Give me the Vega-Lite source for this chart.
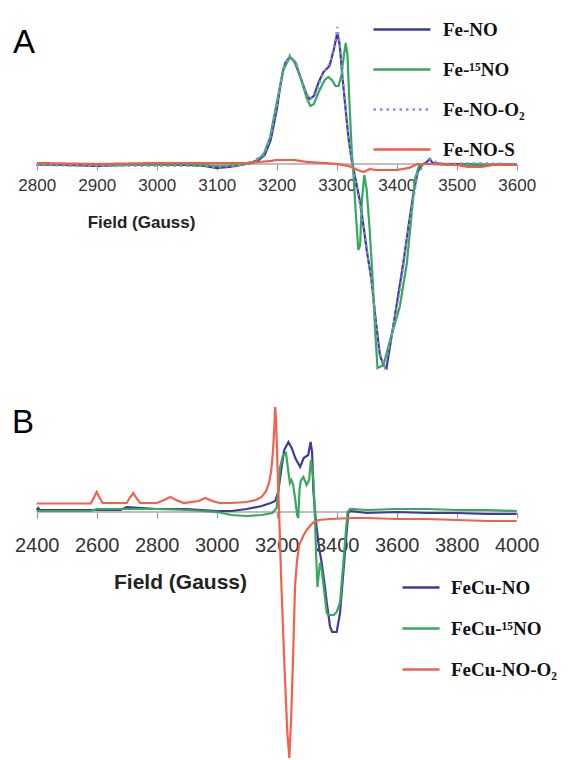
{
  "$schema": "https://vega.github.io/schema/vega-lite/v6.json",
  "padding": 0,
  "autosize": {"type": "pad"},
  "background": "white",
  "spacing": 0,
  "bounds": "flush",
  "config": {"view": {"stroke": null}, "font": "Liberation Sans"},
  "resolve": {
    "scale": {"color": "independent", "strokeDash": "independent", "x": "independent", "y": "independent"},
    "legend": {"color": "independent", "strokeDash": "independent"}
  },
  "datasets": {
    "a": [
      {"s":"Fe-NO","g":2800,"v":-1},{"s":"Fe-NO","g":2850,"v":-1},{"s":"Fe-NO","g":2900,"v":-2},{"s":"Fe-NO","g":2950,"v":-1},{"s":"Fe-NO","g":3000,"v":-1},{"s":"Fe-NO","g":3050,"v":-1},{"s":"Fe-NO","g":3080,"v":-2},{"s":"Fe-NO","g":3100,"v":-4},{"s":"Fe-NO","g":3120,"v":-3},{"s":"Fe-NO","g":3140,"v":-1},{"s":"Fe-NO","g":3160,"v":2},{"s":"Fe-NO","g":3170,"v":4},{"s":"Fe-NO","g":3180,"v":9},{"s":"Fe-NO","g":3190,"v":24},{"s":"Fe-NO","g":3200,"v":54},{"s":"Fe-NO","g":3205,"v":74},{"s":"Fe-NO","g":3210,"v":92},{"s":"Fe-NO","g":3215,"v":102},{"s":"Fe-NO","g":3222,"v":107},{"s":"Fe-NO","g":3230,"v":102},{"s":"Fe-NO","g":3240,"v":86},{"s":"Fe-NO","g":3250,"v":69},{"s":"Fe-NO","g":3255,"v":65},{"s":"Fe-NO","g":3262,"v":68},{"s":"Fe-NO","g":3270,"v":82},{"s":"Fe-NO","g":3278,"v":92},{"s":"Fe-NO","g":3288,"v":98},{"s":"Fe-NO","g":3295,"v":114},{"s":"Fe-NO","g":3301,"v":131},{"s":"Fe-NO","g":3305,"v":119},{"s":"Fe-NO","g":3310,"v":84},{"s":"Fe-NO","g":3315,"v":54},{"s":"Fe-NO","g":3320,"v":24},{"s":"Fe-NO","g":3325,"v":4},{"s":"Fe-NO","g":3330,"v":-11},{"s":"Fe-NO","g":3340,"v":-41},{"s":"Fe-NO","g":3350,"v":-86},{"s":"Fe-NO","g":3358,"v":-116},{"s":"Fe-NO","g":3365,"v":-156},{"s":"Fe-NO","g":3372,"v":-191},{"s":"Fe-NO","g":3378,"v":-201},{"s":"Fe-NO","g":3383,"v":-204},{"s":"Fe-NO","g":3394,"v":-163},{"s":"Fe-NO","g":3411,"v":-99},{"s":"Fe-NO","g":3420,"v":-61},{"s":"Fe-NO","g":3428,"v":-29},{"s":"Fe-NO","g":3435,"v":-8},{"s":"Fe-NO","g":3442,"v":-1},{"s":"Fe-NO","g":3450,"v":2},{"s":"Fe-NO","g":3455,"v":5},{"s":"Fe-NO","g":3460,"v":1},{"s":"Fe-NO","g":3480,"v":0},{"s":"Fe-NO","g":3500,"v":0},{"s":"Fe-NO","g":3550,"v":-1},{"s":"Fe-NO","g":3600,"v":-1},

      {"s":"Fe-¹⁵NO","g":2800,"v":-1},{"s":"Fe-¹⁵NO","g":2850,"v":0},{"s":"Fe-¹⁵NO","g":2900,"v":-1},{"s":"Fe-¹⁵NO","g":3000,"v":-1},{"s":"Fe-¹⁵NO","g":3050,"v":0},{"s":"Fe-¹⁵NO","g":3100,"v":-2},{"s":"Fe-¹⁵NO","g":3140,"v":-1},{"s":"Fe-¹⁵NO","g":3160,"v":1},{"s":"Fe-¹⁵NO","g":3178,"v":9},{"s":"Fe-¹⁵NO","g":3189,"v":27},{"s":"Fe-¹⁵NO","g":3200,"v":61},{"s":"Fe-¹⁵NO","g":3211,"v":94},{"s":"Fe-¹⁵NO","g":3222,"v":107},{"s":"Fe-¹⁵NO","g":3232,"v":101},{"s":"Fe-¹⁵NO","g":3242,"v":82},{"s":"Fe-¹⁵NO","g":3250,"v":66},{"s":"Fe-¹⁵NO","g":3256,"v":58},{"s":"Fe-¹⁵NO","g":3262,"v":60},{"s":"Fe-¹⁵NO","g":3270,"v":72},{"s":"Fe-¹⁵NO","g":3280,"v":84},{"s":"Fe-¹⁵NO","g":3286,"v":87},{"s":"Fe-¹⁵NO","g":3292,"v":84},{"s":"Fe-¹⁵NO","g":3298,"v":78},{"s":"Fe-¹⁵NO","g":3303,"v":78},{"s":"Fe-¹⁵NO","g":3308,"v":89},{"s":"Fe-¹⁵NO","g":3312,"v":109},{"s":"Fe-¹⁵NO","g":3315,"v":121},{"s":"Fe-¹⁵NO","g":3318,"v":109},{"s":"Fe-¹⁵NO","g":3321,"v":64},{"s":"Fe-¹⁵NO","g":3325,"v":14},{"s":"Fe-¹⁵NO","g":3328,"v":-11},{"s":"Fe-¹⁵NO","g":3332,"v":-51},{"s":"Fe-¹⁵NO","g":3336,"v":-86},{"s":"Fe-¹⁵NO","g":3339,"v":-81},{"s":"Fe-¹⁵NO","g":3342,"v":-36},{"s":"Fe-¹⁵NO","g":3346,"v":-11},{"s":"Fe-¹⁵NO","g":3350,"v":-26},{"s":"Fe-¹⁵NO","g":3355,"v":-66},{"s":"Fe-¹⁵NO","g":3360,"v":-116},{"s":"Fe-¹⁵NO","g":3364,"v":-166},{"s":"Fe-¹⁵NO","g":3368,"v":-204},{"s":"Fe-¹⁵NO","g":3378,"v":-201},{"s":"Fe-¹⁵NO","g":3389,"v":-176},{"s":"Fe-¹⁵NO","g":3405,"v":-143},{"s":"Fe-¹⁵NO","g":3417,"v":-99},{"s":"Fe-¹⁵NO","g":3425,"v":-49},{"s":"Fe-¹⁵NO","g":3430,"v":-16},{"s":"Fe-¹⁵NO","g":3437,"v":-2},{"s":"Fe-¹⁵NO","g":3445,"v":0},{"s":"Fe-¹⁵NO","g":3460,"v":0},{"s":"Fe-¹⁵NO","g":3500,"v":-1},{"s":"Fe-¹⁵NO","g":3600,"v":0},

      {"s":"Fe-NO-O₂","g":2800,"v":-1},{"s":"Fe-NO-O₂","g":2900,"v":-2},{"s":"Fe-NO-O₂","g":3000,"v":-2},{"s":"Fe-NO-O₂","g":3080,"v":-2},{"s":"Fe-NO-O₂","g":3100,"v":-3},{"s":"Fe-NO-O₂","g":3140,"v":-1},{"s":"Fe-NO-O₂","g":3160,"v":2},{"s":"Fe-NO-O₂","g":3180,"v":11},{"s":"Fe-NO-O₂","g":3190,"v":28},{"s":"Fe-NO-O₂","g":3200,"v":58},{"s":"Fe-NO-O₂","g":3210,"v":95},{"s":"Fe-NO-O₂","g":3222,"v":109},{"s":"Fe-NO-O₂","g":3232,"v":101},{"s":"Fe-NO-O₂","g":3242,"v":82},{"s":"Fe-NO-O₂","g":3255,"v":64},{"s":"Fe-NO-O₂","g":3265,"v":70},{"s":"Fe-NO-O₂","g":3278,"v":92},{"s":"Fe-NO-O₂","g":3290,"v":102},{"s":"Fe-NO-O₂","g":3298,"v":125},{"s":"Fe-NO-O₂","g":3301,"v":137},{"s":"Fe-NO-O₂","g":3305,"v":121},{"s":"Fe-NO-O₂","g":3312,"v":75},{"s":"Fe-NO-O₂","g":3320,"v":24},{"s":"Fe-NO-O₂","g":3330,"v":-13},{"s":"Fe-NO-O₂","g":3345,"v":-62},{"s":"Fe-NO-O₂","g":3358,"v":-118},{"s":"Fe-NO-O₂","g":3370,"v":-186},{"s":"Fe-NO-O₂","g":3380,"v":-203},{"s":"Fe-NO-O₂","g":3392,"v":-170},{"s":"Fe-NO-O₂","g":3405,"v":-128},{"s":"Fe-NO-O₂","g":3420,"v":-64},{"s":"Fe-NO-O₂","g":3435,"v":-9},{"s":"Fe-NO-O₂","g":3450,"v":2},{"s":"Fe-NO-O₂","g":3457,"v":5},{"s":"Fe-NO-O₂","g":3470,"v":0},{"s":"Fe-NO-O₂","g":3530,"v":1},{"s":"Fe-NO-O₂","g":3600,"v":0},

      {"s":"Fe-NO-S","g":2800,"v":1},{"s":"Fe-NO-S","g":2900,"v":0},{"s":"Fe-NO-S","g":3000,"v":1},{"s":"Fe-NO-S","g":3100,"v":1},{"s":"Fe-NO-S","g":3150,"v":1},{"s":"Fe-NO-S","g":3190,"v":3},{"s":"Fe-NO-S","g":3200,"v":4},{"s":"Fe-NO-S","g":3230,"v":4},{"s":"Fe-NO-S","g":3250,"v":2},{"s":"Fe-NO-S","g":3280,"v":1},{"s":"Fe-NO-S","g":3300,"v":0},{"s":"Fe-NO-S","g":3320,"v":-2},{"s":"Fe-NO-S","g":3335,"v":-6},{"s":"Fe-NO-S","g":3345,"v":-8},{"s":"Fe-NO-S","g":3355,"v":-5},{"s":"Fe-NO-S","g":3365,"v":-6},{"s":"Fe-NO-S","g":3400,"v":-6},{"s":"Fe-NO-S","g":3420,"v":-4},{"s":"Fe-NO-S","g":3435,"v":0},{"s":"Fe-NO-S","g":3460,"v":0},{"s":"Fe-NO-S","g":3500,"v":-1},{"s":"Fe-NO-S","g":3520,"v":-3},{"s":"Fe-NO-S","g":3540,"v":-3},{"s":"Fe-NO-S","g":3560,"v":-1},{"s":"Fe-NO-S","g":3600,"v":-1}
    ],
    "b": [
      {"s":"FeCu-NO","g":2400,"v":2},{"s":"FeCu-NO","g":2405,"v":4},{"s":"FeCu-NO","g":2410,"v":2},{"s":"FeCu-NO","g":2500,"v":2},{"s":"FeCu-NO","g":2600,"v":2},{"s":"FeCu-NO","g":2680,"v":2},{"s":"FeCu-NO","g":2700,"v":5},{"s":"FeCu-NO","g":2750,"v":4},{"s":"FeCu-NO","g":2800,"v":3},{"s":"FeCu-NO","g":2900,"v":3},{"s":"FeCu-NO","g":3000,"v":1},{"s":"FeCu-NO","g":3050,"v":1},{"s":"FeCu-NO","g":3100,"v":3},{"s":"FeCu-NO","g":3150,"v":6},{"s":"FeCu-NO","g":3180,"v":9},{"s":"FeCu-NO","g":3195,"v":11},{"s":"FeCu-NO","g":3205,"v":20},{"s":"FeCu-NO","g":3215,"v":42},{"s":"FeCu-NO","g":3225,"v":62},{"s":"FeCu-NO","g":3239,"v":70},{"s":"FeCu-NO","g":3250,"v":64},{"s":"FeCu-NO","g":3262,"v":54},{"s":"FeCu-NO","g":3278,"v":45},{"s":"FeCu-NO","g":3290,"v":54},{"s":"FeCu-NO","g":3305,"v":57},{"s":"FeCu-NO","g":3313,"v":70},{"s":"FeCu-NO","g":3318,"v":60},{"s":"FeCu-NO","g":3322,"v":22},{"s":"FeCu-NO","g":3328,"v":0},{"s":"FeCu-NO","g":3333,"v":-15},{"s":"FeCu-NO","g":3340,"v":-33},{"s":"FeCu-NO","g":3350,"v":-51},{"s":"FeCu-NO","g":3360,"v":-73},{"s":"FeCu-NO","g":3367,"v":-91},{"s":"FeCu-NO","g":3378,"v":-115},{"s":"FeCu-NO","g":3385,"v":-120},{"s":"FeCu-NO","g":3400,"v":-120},{"s":"FeCu-NO","g":3411,"v":-101},{"s":"FeCu-NO","g":3422,"v":-61},{"s":"FeCu-NO","g":3433,"v":-21},{"s":"FeCu-NO","g":3439,"v":0},{"s":"FeCu-NO","g":3445,"v":1},{"s":"FeCu-NO","g":3500,"v":-1},{"s":"FeCu-NO","g":3600,"v":0},{"s":"FeCu-NO","g":3700,"v":-1},{"s":"FeCu-NO","g":3800,"v":-1},{"s":"FeCu-NO","g":3900,"v":-2},{"s":"FeCu-NO","g":4000,"v":-2},

      {"s":"FeCu-¹⁵NO","g":2400,"v":1},{"s":"FeCu-¹⁵NO","g":2580,"v":1},{"s":"FeCu-¹⁵NO","g":2600,"v":3},{"s":"FeCu-¹⁵NO","g":2700,"v":3},{"s":"FeCu-¹⁵NO","g":2800,"v":3},{"s":"FeCu-¹⁵NO","g":2900,"v":2},{"s":"FeCu-¹⁵NO","g":3000,"v":0},{"s":"FeCu-¹⁵NO","g":3050,"v":-3},{"s":"FeCu-¹⁵NO","g":3100,"v":-4},{"s":"FeCu-¹⁵NO","g":3150,"v":-3},{"s":"FeCu-¹⁵NO","g":3185,"v":-1},{"s":"FeCu-¹⁵NO","g":3200,"v":4},{"s":"FeCu-¹⁵NO","g":3205,"v":20},{"s":"FeCu-¹⁵NO","g":3211,"v":44},{"s":"FeCu-¹⁵NO","g":3220,"v":56},{"s":"FeCu-¹⁵NO","g":3231,"v":59},{"s":"FeCu-¹⁵NO","g":3239,"v":40},{"s":"FeCu-¹⁵NO","g":3244,"v":29},{"s":"FeCu-¹⁵NO","g":3249,"v":32},{"s":"FeCu-¹⁵NO","g":3255,"v":27},{"s":"FeCu-¹⁵NO","g":3262,"v":12},{"s":"FeCu-¹⁵NO","g":3268,"v":-3},{"s":"FeCu-¹⁵NO","g":3272,"v":-6},{"s":"FeCu-¹⁵NO","g":3276,"v":22},{"s":"FeCu-¹⁵NO","g":3280,"v":31},{"s":"FeCu-¹⁵NO","g":3289,"v":35},{"s":"FeCu-¹⁵NO","g":3300,"v":27},{"s":"FeCu-¹⁵NO","g":3308,"v":32},{"s":"FeCu-¹⁵NO","g":3314,"v":52},{"s":"FeCu-¹⁵NO","g":3318,"v":42},{"s":"FeCu-¹⁵NO","g":3322,"v":34},{"s":"FeCu-¹⁵NO","g":3326,"v":7},{"s":"FeCu-¹⁵NO","g":3328,"v":-11},{"s":"FeCu-¹⁵NO","g":3332,"v":-48},{"s":"FeCu-¹⁵NO","g":3336,"v":-75},{"s":"FeCu-¹⁵NO","g":3340,"v":-63},{"s":"FeCu-¹⁵NO","g":3344,"v":-51},{"s":"FeCu-¹⁵NO","g":3350,"v":-58},{"s":"FeCu-¹⁵NO","g":3360,"v":-83},{"s":"FeCu-¹⁵NO","g":3367,"v":-101},{"s":"FeCu-¹⁵NO","g":3375,"v":-103},{"s":"FeCu-¹⁵NO","g":3390,"v":-103},{"s":"FeCu-¹⁵NO","g":3400,"v":-100},{"s":"FeCu-¹⁵NO","g":3411,"v":-91},{"s":"FeCu-¹⁵NO","g":3422,"v":-51},{"s":"FeCu-¹⁵NO","g":3431,"v":-18},{"s":"FeCu-¹⁵NO","g":3436,"v":0},{"s":"FeCu-¹⁵NO","g":3445,"v":3},{"s":"FeCu-¹⁵NO","g":3500,"v":2},{"s":"FeCu-¹⁵NO","g":3600,"v":3},{"s":"FeCu-¹⁵NO","g":3700,"v":3},{"s":"FeCu-¹⁵NO","g":3800,"v":2},{"s":"FeCu-¹⁵NO","g":3900,"v":2},{"s":"FeCu-¹⁵NO","g":4000,"v":1},

      {"s":"FeCu-NO-O₂","g":2400,"v":8.5},{"s":"FeCu-NO-O₂","g":2500,"v":8.5},{"s":"FeCu-NO-O₂","g":2580,"v":8.5},{"s":"FeCu-NO-O₂","g":2590,"v":14},{"s":"FeCu-NO-O₂","g":2600,"v":20},{"s":"FeCu-NO-O₂","g":2610,"v":14},{"s":"FeCu-NO-O₂","g":2620,"v":9},{"s":"FeCu-NO-O₂","g":2700,"v":9},{"s":"FeCu-NO-O₂","g":2712,"v":15},{"s":"FeCu-NO-O₂","g":2722,"v":19},{"s":"FeCu-NO-O₂","g":2732,"v":14},{"s":"FeCu-NO-O₂","g":2745,"v":9},{"s":"FeCu-NO-O₂","g":2800,"v":9},{"s":"FeCu-NO-O₂","g":2825,"v":12},{"s":"FeCu-NO-O₂","g":2845,"v":15},{"s":"FeCu-NO-O₂","g":2865,"v":12},{"s":"FeCu-NO-O₂","g":2890,"v":9},{"s":"FeCu-NO-O₂","g":2940,"v":11},{"s":"FeCu-NO-O₂","g":2962,"v":14},{"s":"FeCu-NO-O₂","g":2985,"v":11},{"s":"FeCu-NO-O₂","g":3010,"v":9},{"s":"FeCu-NO-O₂","g":3050,"v":9},{"s":"FeCu-NO-O₂","g":3100,"v":10},{"s":"FeCu-NO-O₂","g":3130,"v":12},{"s":"FeCu-NO-O₂","g":3150,"v":15},{"s":"FeCu-NO-O₂","g":3165,"v":21},{"s":"FeCu-NO-O₂","g":3175,"v":30},{"s":"FeCu-NO-O₂","g":3182,"v":42},{"s":"FeCu-NO-O₂","g":3188,"v":62},{"s":"FeCu-NO-O₂","g":3192,"v":84},{"s":"FeCu-NO-O₂","g":3195,"v":105},{"s":"FeCu-NO-O₂","g":3198,"v":92},{"s":"FeCu-NO-O₂","g":3203,"v":42},{"s":"FeCu-NO-O₂","g":3208,"v":0},{"s":"FeCu-NO-O₂","g":3215,"v":-68},{"s":"FeCu-NO-O₂","g":3225,"v":-148},{"s":"FeCu-NO-O₂","g":3235,"v":-218},{"s":"FeCu-NO-O₂","g":3242,"v":-246},{"s":"FeCu-NO-O₂","g":3248,"v":-208},{"s":"FeCu-NO-O₂","g":3255,"v":-141},{"s":"FeCu-NO-O₂","g":3261,"v":-75},{"s":"FeCu-NO-O₂","g":3268,"v":-48},{"s":"FeCu-NO-O₂","g":3275,"v":-33},{"s":"FeCu-NO-O₂","g":3290,"v":-23},{"s":"FeCu-NO-O₂","g":3300,"v":-18},{"s":"FeCu-NO-O₂","g":3320,"v":-11},{"s":"FeCu-NO-O₂","g":3340,"v":-8},{"s":"FeCu-NO-O₂","g":3380,"v":-7},{"s":"FeCu-NO-O₂","g":3450,"v":-6},{"s":"FeCu-NO-O₂","g":3500,"v":-6},{"s":"FeCu-NO-O₂","g":3600,"v":-7},{"s":"FeCu-NO-O₂","g":3700,"v":-7},{"s":"FeCu-NO-O₂","g":3800,"v":-8},{"s":"FeCu-NO-O₂","g":3900,"v":-9},{"s":"FeCu-NO-O₂","g":4000,"v":-9}
    ]
  },
  "vconcat": [
    {
      "width": 568,
      "height": 390,
      "layer": [
        {
          "data": {"values": [{"g": 2800, "g2": 3600, "v": 0}]},
          "mark": {"type": "rule", "color": "#a8a8a8", "strokeWidth": 1.5},
          "encoding": {
            "x": {"field": "g", "type": "quantitative", "scale": {"domain": [2738.83, 3685.5], "nice": false, "zero": false},
              "axis": {"values": [2800,2900,3000,3100,3200,3300,3400,3500,3600], "format": "d", "domain": false, "grid": false, "tickColor": "#999", "tickSize": 6, "tickWidth": 1.2, "offset": -226, "labelFontSize": 17, "labelColor": "#333", "labelFont": "Liberation Sans", "labelPadding": 7, "labelOverlap": false, "labelFlush": false, "title": "Field (Gauss)", "titleFontSize": 17, "titleFontWeight": "bold", "titleFont": "Liberation Sans", "titleColor": "#222", "titleX": 141, "titleY": 58, "titleAlign": "center", "titleBaseline": "middle"}},
            "x2": {"field": "g2"},
            "y": {"field": "v", "type": "quantitative", "scale": {"domain": [-226, 164], "nice": false, "zero": false}, "axis": null}
          }
        },
        {
          "data": {"name": "a"},
          "mark": {"type": "line", "strokeWidth": 2.2},
          "encoding": {
            "x": {"field": "g", "type": "quantitative"},
            "y": {"field": "v", "type": "quantitative"},
            "color": {"field": "s", "type": "nominal",
              "scale": {"domain": ["Fe-NO", "Fe-¹⁵NO", "Fe-NO-O₂", "Fe-NO-S"], "range": ["#3b3b9b", "#35a85a", "#8c8cdc", "#f25c4c"]},
              "legend": {"title": null, "orient": "none", "legendX": 392.5, "legendY": 20, "symbolType": "M-5.7,0H5.7", "symbolSize": 100, "symbolStrokeWidth": 2.5, "labelFont": "Liberation Serif", "labelFontWeight": "bold", "labelFontSize": 19, "labelColor": "#111", "labelOffset": 31.5, "rowPadding": 20, "padding": 0, "labelLimit": 300}},
            "strokeDash": {"field": "s", "type": "nominal",
              "scale": {"domain": ["Fe-NO", "Fe-¹⁵NO", "Fe-NO-O₂", "Fe-NO-S"], "range": [[1,0],[1,0],[2.5,4],[1,0]]},
              "legend": {"title": null, "orient": "none", "legendX": 392.5, "legendY": 20, "symbolType": "M-5.7,0H5.7", "symbolSize": 100, "symbolStrokeWidth": 2.5, "labelFont": "Liberation Serif", "labelFontWeight": "bold", "labelFontSize": 19, "labelColor": "#111", "labelOffset": 31.5, "rowPadding": 20, "padding": 0, "labelLimit": 300}}
          }
        },
        {
          "data": {"values": [{"t": "A", "g": 2760.5, "v": 111}]},
          "mark": {"type": "text", "fontSize": 33, "font": "Liberation Sans", "align": "left", "baseline": "alphabetic", "color": "#000"},
          "encoding": {
            "x": {"field": "g", "type": "quantitative"},
            "y": {"field": "v", "type": "quantitative"},
            "text": {"field": "t"}
          }
        }
      ]
    },
    {
      "width": 568,
      "height": 370,
      "layer": [
        {
          "data": {"values": [{"g": 2400, "g2": 4000, "v": 0}]},
          "mark": {"type": "rule", "color": "#a8a8a8", "strokeWidth": 1.5},
          "encoding": {
            "x": {"field": "g", "type": "quantitative", "scale": {"domain": [2277.67, 4171], "nice": false, "zero": false},
              "axis": {"values": [2400,2600,2800,3000,3200,3400,3600,3800,4000], "format": "d", "domain": false, "grid": false, "tickColor": "#999", "tickSize": 6, "tickWidth": 1.2, "offset": -248, "labelFontSize": 20, "labelColor": "#333", "labelFont": "Liberation Sans", "labelPadding": 17, "labelOverlap": false, "labelFlush": false, "title": "Field (Gauss)", "titleFontSize": 21, "titleFontWeight": "bold", "titleFont": "Liberation Sans", "titleColor": "#222", "titleX": 180, "titleY": 70, "titleAlign": "center", "titleBaseline": "middle"}},
            "x2": {"field": "g2"},
            "y": {"field": "v", "type": "quantitative", "scale": {"domain": [-248, 122], "nice": false, "zero": false}, "axis": null}
          }
        },
        {
          "data": {"name": "b"},
          "mark": {"type": "line", "strokeWidth": 2.2},
          "encoding": {
            "x": {"field": "g", "type": "quantitative"},
            "y": {"field": "v", "type": "quantitative"},
            "color": {"field": "s", "type": "nominal",
              "scale": {"domain": ["FeCu-NO", "FeCu-¹⁵NO", "FeCu-NO-O₂"], "range": ["#3d3d99", "#3aa85c", "#f26050"]},
              "legend": {"title": null, "orient": "none", "legendX": 411.5, "legendY": 188, "symbolType": "M-3.7,0H3.7", "symbolSize": 100, "symbolStrokeWidth": 2.5, "labelFont": "Liberation Serif", "labelFontWeight": "bold", "labelFontSize": 19, "labelColor": "#111", "labelOffset": 20.5, "rowPadding": 21, "padding": 0, "labelLimit": 300}}
          }
        },
        {
          "data": {"values": [{"t": "B", "g": 2317.7, "v": 79}]},
          "mark": {"type": "text", "fontSize": 33, "font": "Liberation Sans", "align": "left", "baseline": "alphabetic", "color": "#000"},
          "encoding": {
            "x": {"field": "g", "type": "quantitative"},
            "y": {"field": "v", "type": "quantitative"},
            "text": {"field": "t"}
          }
        }
      ]
    }
  ]
}
